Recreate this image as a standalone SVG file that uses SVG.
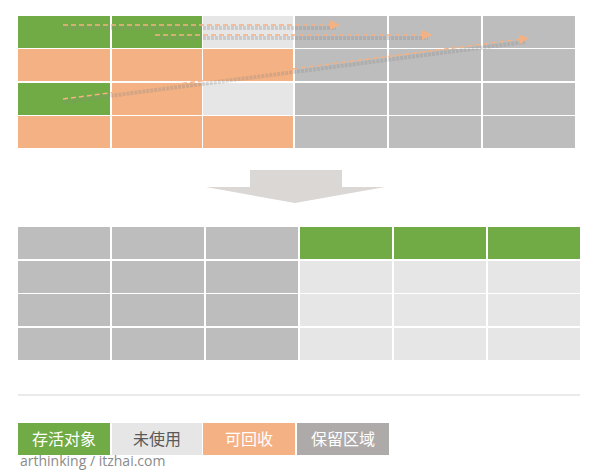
<svg xmlns="http://www.w3.org/2000/svg" width="600" height="473" viewBox="0 0 600 473">
<style>
.g{fill:#70ab46}.o{fill:#f4b183}.d{fill:#bdbdbd}.l{fill:#e6e6e6}.r{fill:#aeaaaa}
.sh{fill:none;stroke:#8c8c8c;stroke-width:4;stroke-opacity:0.3;stroke-dasharray:3 1}
.ar{fill:none;stroke:#f4b183;stroke-width:1.5;stroke-dasharray:5 3}
.t{font-family:"Noto Sans CJK SC","Noto Sans",sans-serif;font-size:16px;text-anchor:middle;fill:#fff}
</style>
<defs>
<marker id="ah" viewBox="0 0 10 10" refX="3" refY="5" markerWidth="10" markerHeight="10" orient="auto" markerUnits="userSpaceOnUse">
<path d="M0,0L10,5L0,10z" fill="#f4b183"/>
</marker>
</defs>
<rect width="600" height="473" fill="#fff"/>
<g id="top-grid">
<rect class="g" x="18" y="16" width="92" height="32"/><rect class="g" x="112" y="16" width="90" height="32"/><rect class="l" x="203" y="16" width="90" height="32"/><rect class="d" x="295" y="16" width="92" height="32"/><rect class="d" x="389" y="16" width="92" height="32"/><rect class="d" x="483" y="16" width="92" height="32"/>
<rect class="o" x="18" y="49" width="92" height="32"/><rect class="o" x="112" y="49" width="90" height="32"/><rect class="o" x="203" y="49" width="90" height="32"/><rect class="d" x="295" y="49" width="92" height="32"/><rect class="d" x="389" y="49" width="92" height="32"/><rect class="d" x="483" y="49" width="92" height="32"/>
<rect class="g" x="18" y="83" width="92" height="32"/><rect class="o" x="112" y="83" width="90" height="32"/><rect class="l" x="203" y="83" width="90" height="32"/><rect class="d" x="295" y="83" width="92" height="32"/><rect class="d" x="389" y="83" width="92" height="32"/><rect class="d" x="483" y="83" width="92" height="32"/>
<rect class="o" x="18" y="116" width="92" height="32"/><rect class="o" x="112" y="116" width="90" height="32"/><rect class="o" x="203" y="116" width="90" height="32"/><rect class="d" x="295" y="116" width="92" height="32"/><rect class="d" x="389" y="116" width="92" height="32"/><rect class="d" x="483" y="116" width="92" height="32"/>
</g>
<g id="connectors">
<path class="sh" d="M63,28L336,28"/>
<path class="sh" d="M155,38L428,38"/>
<path class="sh" d="M63,102L525,42"/>
<path class="ar" d="M63,25L333,25" marker-end="url(#ah)"/>
<path class="ar" d="M155,35L425,35" marker-end="url(#ah)"/>
<path class="ar" d="M63,99L522,39" marker-end="url(#ah)"/>
</g>
<g id="big-arrow">
<path d="M250,170H342V187H385L295,203L206,187H250Z" fill="#dad7d4"/>
</g>
<g id="bottom-grid">
<rect class="d" x="18" y="227" width="92" height="32"/><rect class="d" x="112" y="227" width="92" height="32"/><rect class="d" x="206" y="227" width="92" height="32"/><rect class="g" x="300" y="227" width="92" height="32"/><rect class="g" x="394" y="227" width="92" height="32"/><rect class="g" x="488" y="227" width="92" height="32"/>
<rect class="d" x="18" y="261" width="92" height="32"/><rect class="d" x="112" y="261" width="92" height="32"/><rect class="d" x="206" y="261" width="92" height="32"/><rect class="l" x="300" y="261" width="92" height="32"/><rect class="l" x="394" y="261" width="92" height="32"/><rect class="l" x="488" y="261" width="92" height="32"/>
<rect class="d" x="18" y="294" width="92" height="32"/><rect class="d" x="112" y="294" width="92" height="32"/><rect class="d" x="206" y="294" width="92" height="32"/><rect class="l" x="300" y="294" width="92" height="32"/><rect class="l" x="394" y="294" width="92" height="32"/><rect class="l" x="488" y="294" width="92" height="32"/>
<rect class="d" x="18" y="328" width="92" height="32"/><rect class="d" x="112" y="328" width="92" height="32"/><rect class="d" x="206" y="328" width="92" height="32"/><rect class="l" x="300" y="328" width="92" height="32"/><rect class="l" x="394" y="328" width="92" height="32"/><rect class="l" x="488" y="328" width="92" height="32"/>
</g>
<line x1="18" y1="395" x2="580" y2="395" stroke="#e3e3e3" stroke-width="1.5"/>
<g id="legend">
<g id="legend-live"><rect class="g" x="18" y="423" width="92" height="32"/><text class="t" x="64" y="445">存活对象</text></g>
<g id="legend-unused"><rect class="l" x="112" y="423" width="90" height="32"/><text class="t" x="157" y="445" style="fill:#595959">未使用</text></g>
<g id="legend-recyclable"><rect class="o" x="203" y="423" width="92" height="32"/><text class="t" x="249" y="445">可回收</text></g>
<g id="legend-reserved"><rect class="r" x="297" y="423" width="92" height="32"/><text class="t" x="343" y="445">保留区域</text></g>
</g>
<text x="20" y="466" font-family="'Open Sans','Noto Sans',sans-serif" font-size="14" fill="#8a8a8a">arthinking / itzhai.com</text>
</svg>
